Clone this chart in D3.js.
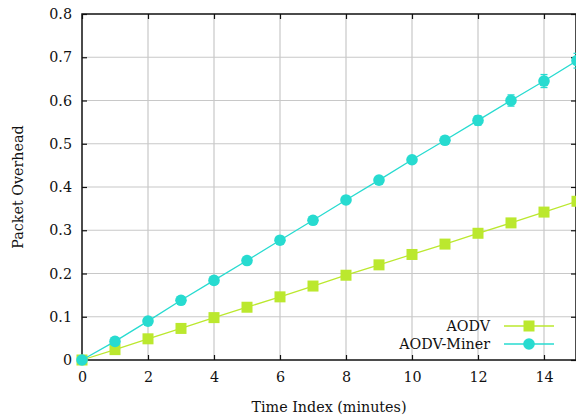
<!DOCTYPE html>
<html><head><meta charset="utf-8">
<script src="https://cdn.jsdelivr.net/npm/d3@7"></script>
<style>body{margin:0;background:#fff}svg{display:block}text{font-family:"DejaVu Serif",serif;font-size:14.3px;fill:#111}</style>
</head><body><svg id="c" width="576" height="417"></svg>
<script>
const timeIdx = [0,1,2,3,4,5,6,7,8,9,10,11,12,13,14,15];
const aodv = [0,0.024,0.049,0.073,0.098,0.122,0.146,0.171,0.196,0.220,0.244,0.268,0.293,0.317,0.342,0.367];
const aodvErr = [0,0,0,0,0,0,0,0,0,0,0,0,0,0,0,0];
const miner = [0,0.043,0.090,0.138,0.184,0.230,0.277,0.323,0.370,0.416,0.463,0.508,0.554,0.600,0.645,0.692];
const minerErr = [0,0.001,0.001,0.002,0.002,0.002,0.003,0.003,0.004,0.005,0.007,0.009,0.011,0.013,0.015,0.017];
const xTicks = [0,2,4,6,8,10,12,14];
const yTicks = [0,0.1,0.2,0.3,0.4,0.5,0.6,0.7,0.8];
const seriesNames = ["AODV","AODV-Miner"];

const FONT='"DejaVu Serif",serif', FS="14.3px";
const L=82,R=577,T=14,B=360;
const svg=d3.select("#c");
const x=d3.scaleLinear().domain([0,15]).range([L,R]);
const y=d3.scaleLinear().domain([0,0.8]).range([B,T]);
const cA="#bbe82e", cM="#27dbd0";

// grid
svg.append("g").selectAll("line").data(xTicks.filter(d=>d>0)).join("line")
 .attr("x1",d=>x(d)).attr("x2",d=>x(d)).attr("y1",T).attr("y2",B).attr("stroke","#c8c8c8").attr("stroke-width",1.2);
svg.append("g").selectAll("line").data(yTicks.filter(d=>d>0&&d<0.8)).join("line")
 .attr("y1",d=>y(d)).attr("y2",d=>y(d)).attr("x1",L).attr("x2",R).attr("stroke","#c8c8c8").attr("stroke-width",1.2);

// axes
const fmt=d=>d===0?"0":d3.format(".1f")(d);
svg.append("g").attr("transform",`translate(0,${B})`).call(d3.axisBottom(x).tickValues(xTicks).tickSizeInner(-5).tickSizeOuter(0).tickPadding(12));
svg.append("g").attr("transform",`translate(${L},0)`).call(d3.axisLeft(y).tickValues(yTicks).tickFormat(fmt).tickSizeInner(-5).tickSizeOuter(0).tickPadding(10));
svg.append("g").attr("transform",`translate(${R-1},0)`).call(d3.axisRight(y).tickValues(yTicks).tickFormat("").tickSizeInner(-5).tickSizeOuter(0));
svg.append("g").attr("transform",`translate(0,${T})`).call(d3.axisTop(x).tickValues(xTicks).tickFormat("").tickSizeInner(-5).tickSizeOuter(0));
svg.selectAll(".domain").remove();
svg.selectAll(".tick line").attr("stroke","#111").attr("stroke-width",1.2);
svg.selectAll("g").attr("font-family",FONT).attr("font-size",FS);
svg.selectAll(".tick text").attr("fill","#111");
svg.append("rect").attr("x",L).attr("y",T).attr("width",R-L-1).attr("height",B-T).attr("fill","none").attr("stroke","#111").attr("stroke-width",1.5);

// series
function series(vals,errs,color,shape){
  const pts=timeIdx.map((t,i)=>({t,v:vals[i],e:errs[i]}));
  const g=svg.append("g");
  g.append("path").datum(pts).attr("fill","none").attr("stroke",color).attr("stroke-width",1.3)
   .attr("d",d3.line().x(d=>x(d.t)).y(d=>y(d.v)));
  const eb=g.selectAll(".eb").data(pts.filter(d=>d.e>0)).join("g");
  eb.append("line").attr("x1",d=>x(d.t)).attr("x2",d=>x(d.t)).attr("y1",d=>y(d.v-d.e)).attr("y2",d=>y(d.v+d.e)).attr("stroke",color).attr("stroke-width",1.3);
  eb.append("line").attr("x1",d=>x(d.t)-3.5).attr("x2",d=>x(d.t)+3.5).attr("y1",d=>y(d.v-d.e)).attr("y2",d=>y(d.v-d.e)).attr("stroke",color).attr("stroke-width",1.3);
  eb.append("line").attr("x1",d=>x(d.t)-3.5).attr("x2",d=>x(d.t)+3.5).attr("y1",d=>y(d.v+d.e)).attr("y2",d=>y(d.v+d.e)).attr("stroke",color).attr("stroke-width",1.3);
  if(shape==="sq") g.selectAll("rect").data(pts).join("rect").attr("x",d=>x(d.t)-5.5).attr("y",d=>y(d.v)-5.5).attr("width",11).attr("height",11).attr("fill",color);
  else g.selectAll("circle").data(pts).join("circle").attr("cx",d=>x(d.t)).attr("cy",d=>y(d.v)).attr("r",5.8).attr("fill",color);
}
series(aodv,aodvErr,cA,"sq");
series(miner,minerErr,cM,"ci");

// legend
const leg=[{n:seriesNames[0],c:cA,s:"sq",y:326},{n:seriesNames[1],c:cM,s:"ci",y:344}];
leg.forEach(l=>{
  svg.append("text").attr("x",490).attr("y",l.y).attr("dy","0.35em").attr("text-anchor","end").text(l.n);
  svg.append("line").attr("x1",504).attr("x2",554).attr("y1",l.y).attr("y2",l.y).attr("stroke",l.c).attr("stroke-width",1.3);
  if(l.s==="sq") svg.append("rect").attr("x",529-5.5).attr("y",l.y-5.5).attr("width",11).attr("height",11).attr("fill",l.c);
  else svg.append("circle").attr("cx",529).attr("cy",l.y).attr("r",5.8).attr("fill",l.c);
});

// axis titles
svg.append("text").attr("x",329).attr("y",407).attr("dy","0.35em").attr("text-anchor","middle").text("Time Index (minutes)");
svg.append("text").attr("transform","translate(18,187) rotate(-90)").attr("dy","0.35em").attr("text-anchor","middle").text("Packet Overhead");
</script></body></html>
